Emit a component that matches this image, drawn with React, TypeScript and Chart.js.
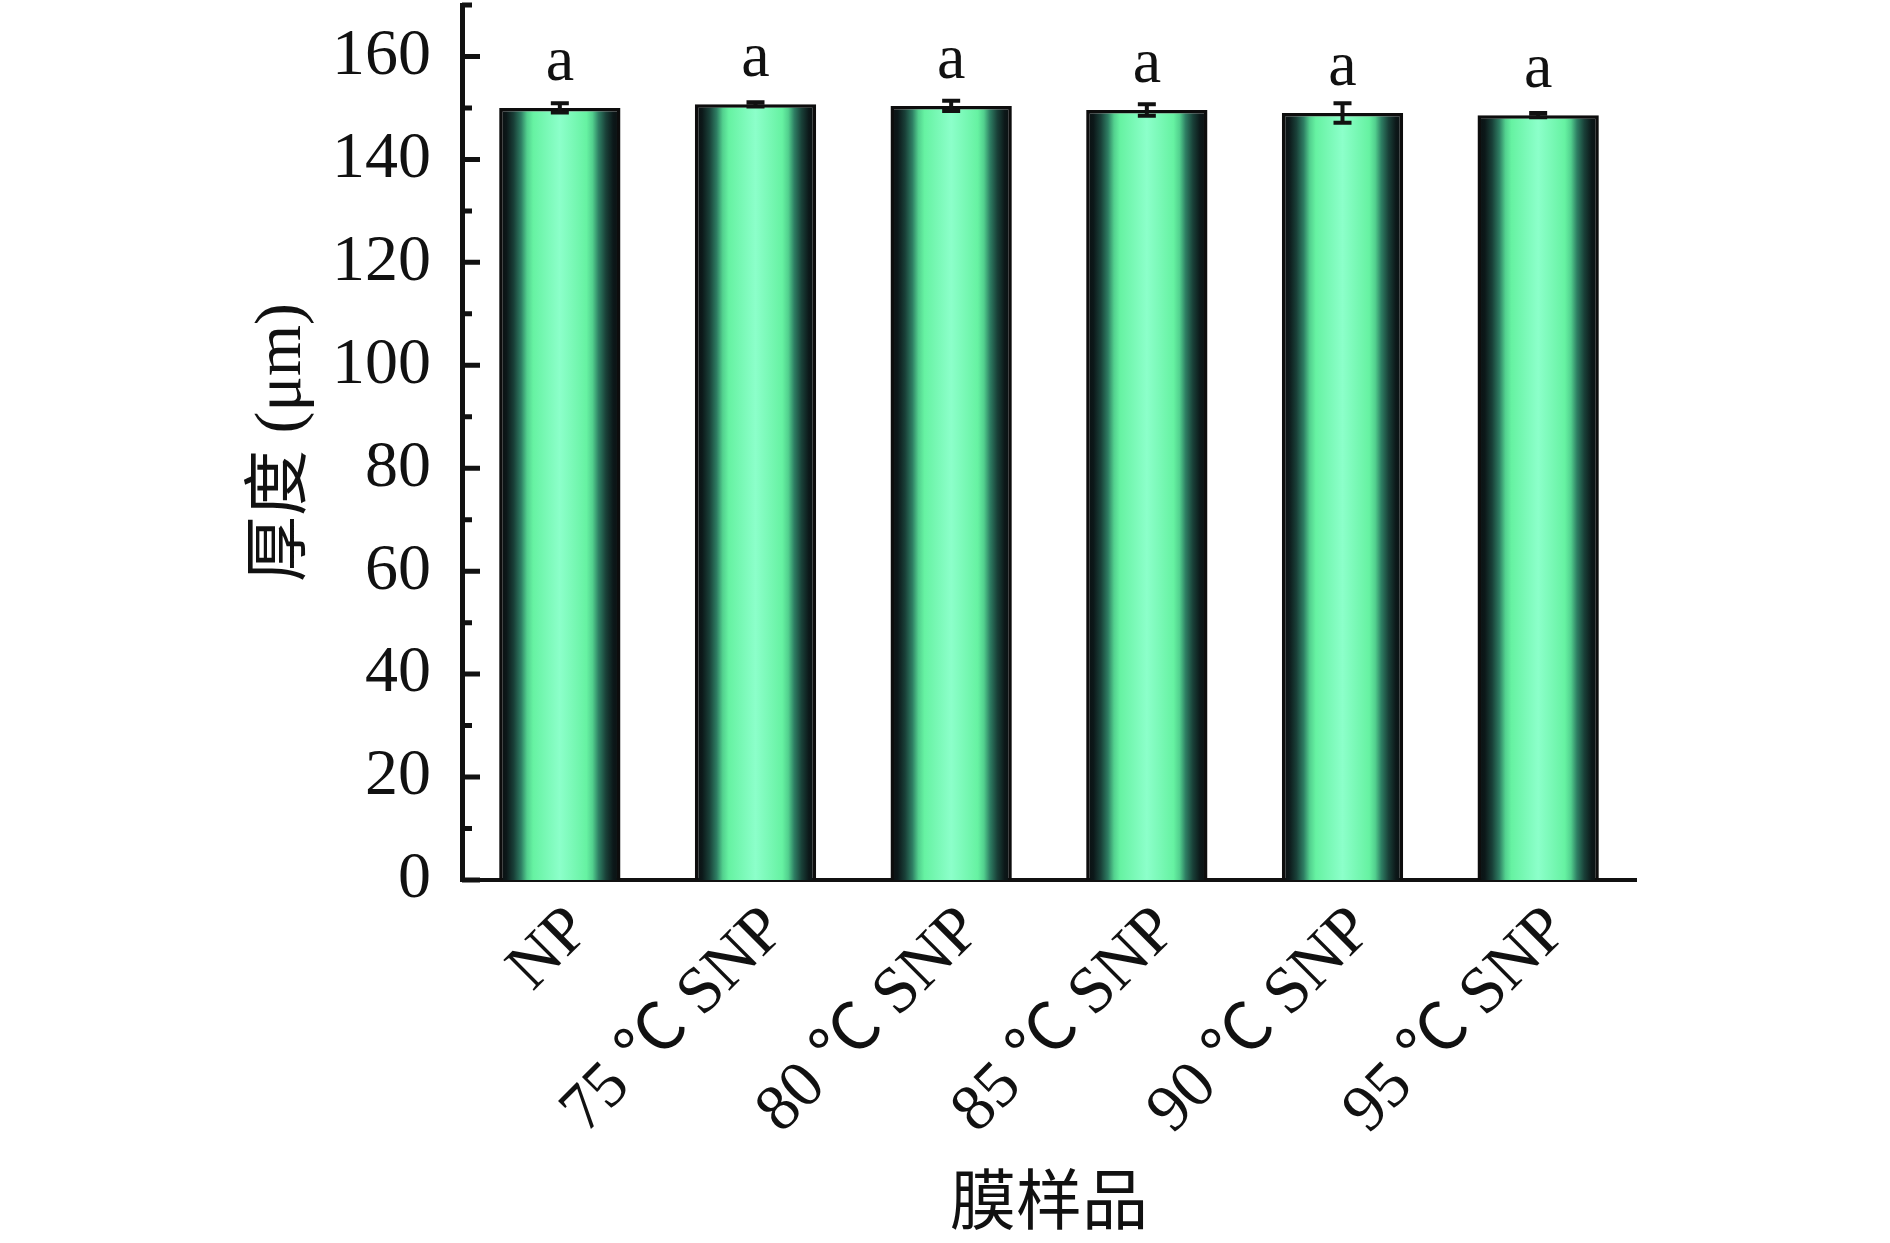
import React, { useEffect, useRef } from 'react';
import { Chart, registerables } from 'chart.js';

Chart.register(...registerables);

const categories = ['NP', '75 ℃ SNP', '80 ℃ SNP', '85 ℃ SNP', '90 ℃ SNP', '95 ℃ SNP'];
const thickness = [150.0, 150.7, 150.4, 149.6, 149.0, 148.6];
const thicknessErr = [0.9, 0.4, 1.0, 1.1, 1.9, 0.4];
const significance = ['a', 'a', 'a', 'a', 'a', 'a'];
const yMajorTicks = [0, 20, 40, 60, 80, 100, 120, 140, 160];
const yMinorTicks = [10, 30, 50, 70, 90, 110, 130, 150, 170];
const yMin = 0;
const yMax = 170;
const xTitle = '膜样品';
const yTitle = '厚度 (μm)';

const SERIF = '"CJKSym", "Liberation Serif", "Times New Roman", "Noto Sans CJK SC", serif';
const W = 1890;
const H = 1243;

const gradStops: [number, string][] = [
  [0, '#0a0e0f'],
  [0.06, '#0c1819'],
  [0.12, '#194038'],
  [0.18, '#2e7e63'],
  [0.23, '#52d08e'],
  [0.28, '#66f2a2'],
  [0.5, '#8cffca'],
  [0.72, '#66f2a2'],
  [0.77, '#52d08e'],
  [0.82, '#2e7e63'],
  [0.88, '#194038'],
  [0.94, '#0c1819'],
  [1, '#0a0e0f'],
];

const decoPlugin = {
  id: 'deco',
  afterDatasetsDraw(chart: any) {
    const { ctx, scales } = chart;
    const y = scales.y;
    const meta = chart.getDatasetMeta(0);
    ctx.save();
    ctx.strokeStyle = '#111';
    ctx.fillStyle = '#111';
    ctx.lineWidth = 4;
    meta.data.forEach((el: any, i: number) => {
      const cx = el.x;
      const top = y.getPixelForValue(thickness[i] + thicknessErr[i]);
      const bot = y.getPixelForValue(thickness[i] - thicknessErr[i]);
      ctx.beginPath();
      ctx.moveTo(cx, top);
      ctx.lineTo(cx, bot);
      ctx.moveTo(cx - 9, top);
      ctx.lineTo(cx + 9, top);
      ctx.moveTo(cx - 9, bot);
      ctx.lineTo(cx + 9, bot);
      ctx.stroke();
      ctx.font = `64px ${SERIF}`;
      ctx.textAlign = 'center';
      ctx.textBaseline = 'alphabetic';
      ctx.fillText(significance[i], cx, el.y - 28);
    });
    ctx.restore();
  },
  afterDraw(chart: any) {
    const { ctx, chartArea, scales } = chart;
    const y = scales.y;
    const x0 = chartArea.left;
    ctx.save();
    ctx.strokeStyle = '#111';
    ctx.lineWidth = 5;
    ctx.beginPath();
    yMajorTicks.forEach((v) => {
      const py = y.getPixelForValue(v);
      ctx.moveTo(x0, py);
      ctx.lineTo(x0 + 18, py);
    });
    yMinorTicks.forEach((v) => {
      const py = y.getPixelForValue(v);
      ctx.moveTo(x0, py);
      ctx.lineTo(x0 + 10, py);
    });
    ctx.stroke();
    ctx.restore();
  },
};

export default function App() {
  const ref = useRef<HTMLCanvasElement | null>(null);

  useEffect(() => {
    document.body.style.margin = '0';
    const style = document.createElement('style');
    style.textContent =
      '@font-face { font-family: "CJKSym"; src: local("Noto Sans CJK SC"), local("NotoSansCJKsc-Regular"), local("Noto Sans CJK SC Regular"); unicode-range: U+2103, U+3000-9FFF, U+FF00-FFEF; }';
    document.head.appendChild(style);
    let chart: any = null;
    let cancelled = false;

    const build = () => {
      if (cancelled) return;
      const canvas = ref.current;
      if (!canvas) return;
      chart = new Chart(canvas, {
        type: 'bar',
        data: {
          labels: categories,
          datasets: [
            {
              data: thickness,
              backgroundColor: (c: any) => {
                const ch = c.chart;
                if (c.dataIndex === undefined || !ch.chartArea) return '#7fffc0';
                const xs = ch.scales.x;
                const cx = xs.getPixelForValue(c.dataIndex);
                const w = (xs.width / categories.length) * 0.62;
                const g = ch.ctx.createLinearGradient(cx - w / 2, 0, cx + w / 2, 0);
                gradStops.forEach(([o, col]) => g.addColorStop(o, col));
                return g;
              },
              borderColor: '#0d0d0d',
              borderWidth: 3.5,
              borderSkipped: 'bottom',
              categoryPercentage: 1,
              barPercentage: 0.62,
            },
          ],
        },
        options: {
          responsive: false,
          animation: false,
          devicePixelRatio: 1,
          layout: { padding: { left: 243, right: 254, top: 5, bottom: 0 } },
          plugins: {
            legend: { display: false },
            tooltip: { enabled: false },
          },
          scales: {
            x: {
              grid: { display: false },
              border: { display: true, color: '#111', width: 4 },
              ticks: {
                autoSkip: false,
                maxRotation: 45,
                minRotation: 45,
                padding: 4,
                labelOffset: 20,
                color: '#111',
                font: { family: SERIF, size: 66 },
              },
              title: {
                display: true,
                text: xTitle,
                color: '#111',
                padding: 0,
                font: { family: SERIF, size: 66, lineHeight: 1.1 },
              },
              afterFit: (s: any) => {
                s.height = H - 880;
                s.paddingLeft = 0;
                s.paddingRight = 0;
              },
            },
            y: {
              min: yMin,
              max: yMax,
              grid: { display: false },
              border: { display: true, color: '#111', width: 5 },
              afterBuildTicks: (s: any) => {
                s.ticks = yMajorTicks.map((v) => ({ value: v }));
              },
              ticks: {
                padding: 23,
                color: '#111',
                font: { family: SERIF, size: 66 },
              },
              title: {
                display: true,
                text: yTitle,
                color: '#111',
                padding: 0,
                font: { family: SERIF, size: 66 },
              },
              afterFit: (s: any) => {
                s.width = 462 - 243;
                s.paddingTop = 0;
                s.paddingBottom = 0;
              },
            },
          },
        },
        plugins: [decoPlugin],
      } as any);
    };

    const fonts: any = (document as any).fonts;
    if (fonts && fonts.load) {
      fonts
        .load('66px "CJKSym"', '℃厚度膜样品')
        .then(build, build);
    } else {
      build();
    }

    return () => {
      cancelled = true;
      if (chart) chart.destroy();
      style.remove();
    };
  }, []);

  return (
    <div style={{ width: W, height: H, background: '#fff' }}>
      <canvas ref={ref} width={W} height={H} style={{ display: 'block' }} />
    </div>
  );
}
